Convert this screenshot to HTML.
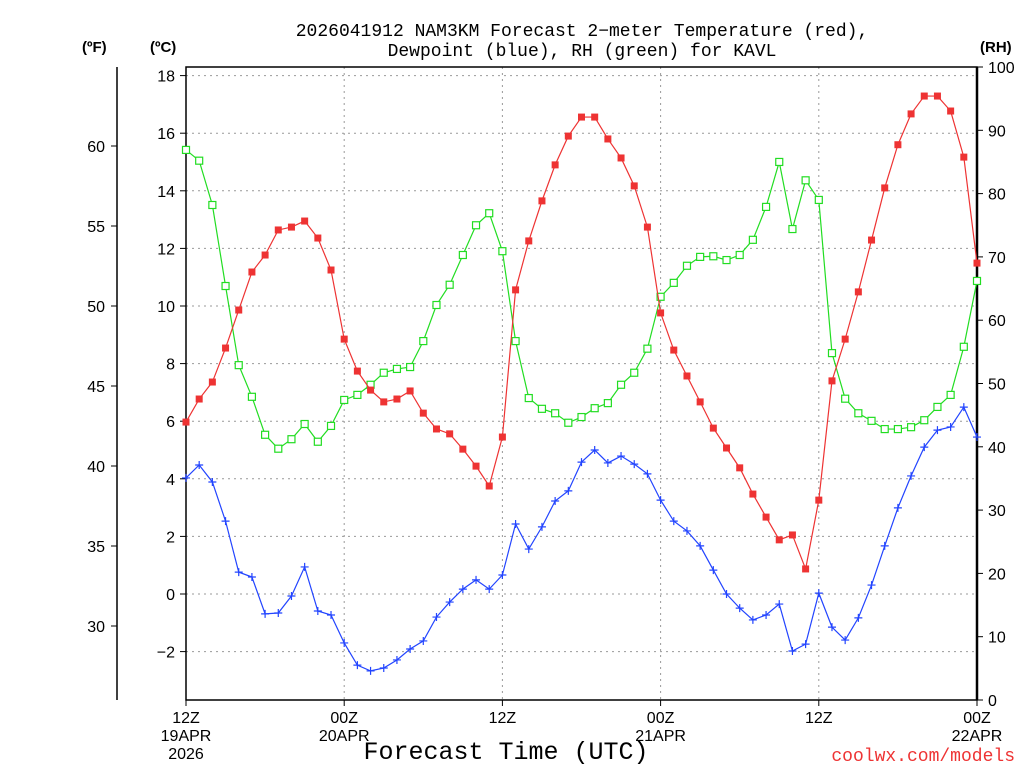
<!DOCTYPE html>
<html><head><meta charset="utf-8"><style>
body{margin:0;background:#fff;}
svg{display:block;font-family:"Liberation Sans",sans-serif;}
</style></head><body>
<svg id="c" width="1024" height="768"></svg>
<script>
const hours=[];for(let i=0;i<=60;i++)hours.push(i);
const tempC=[5.97,6.77,7.36,8.54,9.86,11.18,11.77,12.64,12.74,12.95,12.36,11.25,8.85,7.74,7.08,6.67,6.77,7.05,6.28,5.73,5.56,5.03,4.44,3.75,5.45,10.56,12.26,13.65,14.9,15.9,16.56,16.56,15.8,15.14,14.17,12.74,9.76,8.47,7.57,6.67,5.76,5.07,4.38,3.47,2.67,1.88,2.05,0.87,3.26,7.4,8.85,10.49,12.29,14.1,15.6,16.67,17.29,17.29,16.77,15.17,11.49];
const dewC=[4.03,4.48,3.89,2.53,0.76,0.59,-0.69,-0.66,-0.07,0.94,-0.59,-0.73,-1.7,-2.47,-2.67,-2.57,-2.29,-1.91,-1.63,-0.8,-0.28,0.17,0.49,0.17,0.66,2.43,1.56,2.33,3.23,3.58,4.58,5.0,4.55,4.79,4.51,4.17,3.26,2.53,2.19,1.67,0.83,0,-0.49,-0.9,-0.73,-0.35,-1.98,-1.74,0.03,-1.15,-1.6,-0.83,0.31,1.67,2.99,4.1,5.1,5.69,5.8,6.49,5.45];
const rh=[86.9,85.2,78.2,65.4,52.9,47.9,41.9,39.7,41.2,43.6,40.8,43.3,47.4,48.2,49.8,51.7,52.3,52.6,56.7,62.4,65.6,70.3,75.0,76.9,70.9,56.7,47.7,46.0,45.3,43.8,44.7,46.1,46.9,49.8,51.7,55.5,63.7,65.9,68.6,70.0,70.1,69.5,70.3,72.7,77.9,85.0,74.4,82.1,79.0,54.8,47.6,45.3,44.1,42.8,42.8,43.1,44.2,46.3,48.2,55.8,66.2];
const cTicks=[-2,0,2,4,6,8,10,12,14,16,18];
const fTicks=[30,35,40,45,50,55,60];
const rhTicks=[0,10,20,30,40,50,60,70,80,90,100];
const xTickHours=[0,12,24,36,48,60];
const xTickL1=["12Z","00Z","12Z","00Z","12Z","00Z"];
const xTickL2=["19APR","20APR","","21APR","","22APR"];
const xTickL3=["2026","","","","",""];

const L=186,R=977,T=67,B=700;
const X=h=>L+(R-L)*h/60;
const YC=c=>594-28.8*c;
const YF=f=>YC((f-32)*5/9);
const YR=r=>B-(B-T)*r/100;
const s=document.getElementById('c');const NS="http://www.w3.org/2000/svg";
function el(t,a,p){const e=document.createElementNS(NS,t);for(const k in a)e.setAttribute(k,a[k]);(p||s).appendChild(e);return e;}
function tx(x,y,str,a){const e=el('text',Object.assign({x:x,y:y,'font-size':16,fill:'#000'},a||{}));e.textContent=str;return e;}
const MONO='"Liberation Mono",monospace';

cTicks.forEach(c=>{const g=el('line',{x1:L,x2:R,y1:YC(c),y2:YC(c),stroke:'#999','stroke-dasharray':'2,4'});

});
xTickHours.slice(1,5).forEach(h=>{const g=el('line',{x1:X(h),x2:X(h),y1:T,y2:B,stroke:'#999','stroke-dasharray':'2,4'});

});
el('rect',{x:L,y:T,width:R-L,height:B-T,fill:'none',stroke:'#000','stroke-width':1.5,});
el('line',{x1:R,x2:R,y1:T,y2:B,stroke:'#000','stroke-width':2.5});
el('line',{x1:117,x2:117,y1:T,y2:B,stroke:'#000','stroke-width':1.5,});
cTicks.forEach(c=>{el('line',{x1:L,x2:L-6,y1:YC(c),y2:YC(c),stroke:'#000'});
const t=tx(175,YC(c)+6,(c<0?'\u2212'+(-c):c),{'text-anchor':'end'});

});
fTicks.forEach(f=>{el('line',{x1:117,x2:111,y1:YF(f),y2:YF(f),stroke:'#000'});
const t=tx(105,YF(f)+6,f,{'text-anchor':'end'});

});
rhTicks.forEach(r=>{el('line',{x1:R,x2:R+6,y1:YR(r),y2:YR(r),stroke:'#000'});
const t=tx(988,YR(r)+6,r);

});
xTickHours.forEach((h,i)=>{el('line',{x1:X(h),x2:X(h),y1:B,y2:B+6,stroke:'#000'});
const t=tx(X(h),723,xTickL1[i],{'text-anchor':'middle'});


if(xTickL2[i])tx(X(h),741,xTickL2[i],{'text-anchor':'middle'});
if(xTickL3[i])tx(X(h),759,xTickL3[i],{'text-anchor':'middle'});});
function series(vals,yf,color,name,marker){
 const p=el('polyline',{points:vals.map((v,i)=>X(hours[i])+','+yf(v)).join(' '),fill:'none',stroke:color,'stroke-width':1.2});
 
 
 vals.forEach((v,i)=>{const x=X(hours[i]),y=yf(v);let m;
  if(marker==='fill')m=el('rect',{x:x-3.5,y:y-3.5,width:7,height:7,fill:color});
  else if(marker==='open')m=el('rect',{x:x-3.5,y:y-3.5,width:7,height:7,fill:'#fff',stroke:color,'stroke-width':1.2});
  else{m=el('path',{d:`M${x-4},${y}H${x+4}M${x},${y-4}V${y+4}`,stroke:color,'stroke-width':1.2});}
  
  });
}
series(rh,YR,'#22dd22','rh','open');
series(dewC,YC,'#2244ff','dewpoint','plus');
series(tempC,YC,'#ee3333','temperature','fill');
tx(582,36,'2026041912 NAM3KM Forecast 2\u2212meter Temperature (red),',{'text-anchor':'middle','font-size':18,'font-family':MONO,});
tx(582,56,'Dewpoint (blue), RH (green) for KAVL',{'text-anchor':'middle','font-size':18,'font-family':MONO});
tx(82,52,'(\u00baF)',{'font-weight':'bold','font-size':15,});
tx(150,52,'(\u00baC)',{'font-weight':'bold','font-size':15,});
tx(980,52,'(RH)',{'font-weight':'bold','font-size':15,});
tx(506,759,'Forecast Time (UTC)',{'text-anchor':'middle','font-size':25,'font-family':MONO,});
tx(1015,761,'coolwx.com/models',{'text-anchor':'end','font-size':18,'font-family':MONO,fill:'#ee3333',});
</script>
</body></html>
